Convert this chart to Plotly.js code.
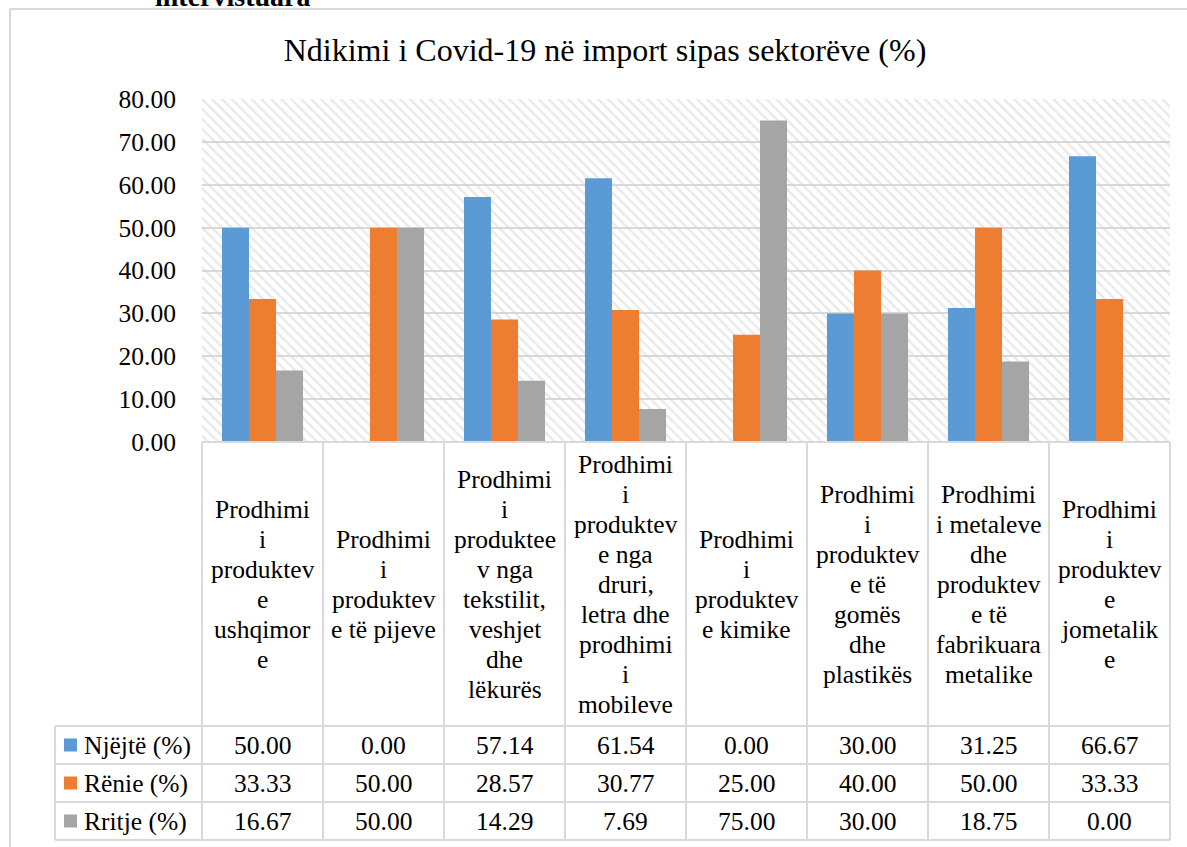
<!DOCTYPE html>
<html>
<head>
<meta charset="utf-8">
<script src="https://cdn.plot.ly/plotly-3.0.1.min.js"></script>
<style>html,body{margin:0;padding:0;background:#fff;}</style>
</head>
<body>
<div id="chart"></div>
<script>
// ---- data ----
const categories = [
  "Prodhimi<br>i<br>produktev<br>e<br>ushqimor<br>e",
  "Prodhimi<br>i<br>produktev<br>e të pijeve",
  "Prodhimi<br>i<br>produktee<br>v nga<br>tekstilit,<br>veshjet<br>dhe<br>lëkurës",
  "Prodhimi<br>i<br>produktev<br>e nga<br>druri,<br>letra dhe<br>prodhimi<br>i<br>mobileve",
  "Prodhimi<br>i<br>produktev<br>e kimike",
  "Prodhimi<br>i<br>produktev<br>e të<br>gomës<br>dhe<br>plastikës",
  "Prodhimi<br>i metaleve<br>dhe<br>produktev<br>e të<br>fabrikuara<br>metalike",
  "Prodhimi<br>i<br>produktev<br>e<br>jometalik<br>e"
];
const seriesNames = ["Njëjtë (%)", "Rënie (%)", "Rritje (%)"];
const njejte = [50.00, 0.00, 57.14, 61.54, 0.00, 30.00, 31.25, 66.67];
const renie  = [33.33, 50.00, 28.57, 30.77, 25.00, 40.00, 50.00, 33.33];
const rritje = [16.67, 50.00, 14.29, 7.69, 75.00, 30.00, 18.75, 0.00];
const seriesColors = ["#5B9BD5", "#ED7D31", "#A5A5A5"];
const yTickVals = [0, 10, 20, 30, 40, 50, 60, 70, 80];
const titleText = "Ndikimi i Covid-19 në import sipas sektorëve (%)";

// ---- layout geometry (pixels) ----
const W = 1187, H = 847;
const L = 202, R = 1170, T = 99, B = 442;
const pw = R - L, ph = B - T;
const px = p => (p - L) / pw;
const py = p => (B - p) / ph;
const FONT = "Times New Roman, Liberation Serif, serif";
const FS = 25.5;
const gridC = "#D9D9D9";
const yMax = yTickVals[yTickVals.length - 1];

const seriesVals = [njejte, renie, rritje];
const xIdx = categories.map((c, i) => i);
const n = categories.length;

// background hatch (plot-area fill, Excel "wide downward diagonal")
const traces = [{
  type: "bar", x: [0], y: [yMax], width: [1],
  xaxis: "x", yaxis: "y",
  marker: { color: "rgba(0,0,0,0)", line: { width: 0 },
    pattern: { shape: "\\", fgcolor: "#d4d4d4", size: 7, solidity: 0.35, fillmode: "overlay" } },
  hoverinfo: "skip", showlegend: false
}].concat(seriesVals.map((vals, s) => ({
  type: "bar",
  name: seriesNames[s],
  x: xIdx,
  y: vals,
  xaxis: "x2", yaxis: "y",
  marker: { color: seriesColors[s], line: { width: 0 } },
  hoverinfo: "skip"
})));

const shapes = [];
const annotations = [];
const line = (x0, y0, x1, y1) => shapes.push({
  type: "line", xref: "paper", yref: "paper",
  x0: px(x0), y0: py(y0), x1: px(x1), y1: py(y1),
  line: { color: gridC, width: 2 }
});

// outer chart border
line(10, 9, W + 20, 9);
line(10, 9, 10, H + 20);

// table rows
const rowLines = [726, 764, 802, 840];
const rowCenters = [745, 783, 821];
const legX = 55;
line(L, B, R, B);
rowLines.forEach(y => line(legX, y, R, y));
line(legX, 726, legX, 840);
for (let i = 0; i <= n; i++) {
  const xp = L + pw * i / n;
  line(xp, B, xp, 840);
}

const txtFont = () => ({ family: FONT, size: FS, color: "#000" });

// category labels (one annotation per line for Excel-like spacing)
const catCenter = (B + 726) / 2;
const lh = 30;
categories.forEach((c, i) => {
  const parts = c.split("<br>");
  parts.forEach((t, k) => {
    annotations.push({
      xref: "x2", yref: "paper", x: i,
      y: py(catCenter + (k - (parts.length - 1) / 2) * lh),
      text: t, showarrow: false, xanchor: "center", yanchor: "middle",
      font: txtFont()
    });
  });
});

// table values and legend keys
seriesVals.forEach((vals, s) => {
  const yc = rowCenters[s];
  shapes.push({
    type: "rect", xref: "paper", yref: "paper",
    x0: px(64), x1: px(77), y0: py(yc - 6.5), y1: py(yc + 6.5),
    fillcolor: seriesColors[s], line: { width: 0 }
  });
  annotations.push({
    xref: "paper", yref: "paper", x: px(82), y: py(yc),
    text: seriesNames[s], showarrow: false, xanchor: "left", yanchor: "middle",
    font: txtFont()
  });
  vals.forEach((v, i) => {
    annotations.push({
      xref: "x2", yref: "paper", x: i, y: py(yc),
      text: v.toFixed(2), showarrow: false, xanchor: "center", yanchor: "middle",
      font: txtFont()
    });
  });
});

// fragment of document text above the chart (cut off at the top, as in the source)
annotations.push({
  xref: "paper", yref: "paper", x: px(153), y: py(14),
  text: "<b>intervistuara</b>", showarrow: false, xanchor: "left", yanchor: "bottom",
  font: { family: FONT, size: 28, color: "#000" }
});

const layout = {
  width: W, height: H,
  margin: { l: L, r: W - R, t: T, b: H - B, pad: 0 },
  paper_bgcolor: "#ffffff",
  plot_bgcolor: "#ffffff",
  showlegend: false,
  barmode: "group",
  bargap: 0.33,
  bargroupgap: 0,
  title: {
    text: titleText,
    xref: "container", yref: "container",
    x: 605 / W, y: 1 - 50 / H, xanchor: "center", yanchor: "middle",
    font: { family: FONT, size: 32, color: "#000" }
  },
  xaxis: {
    type: "linear", range: [-0.5, 0.5],
    showticklabels: false, showgrid: false, zeroline: false, showline: false, ticks: ""
  },
  xaxis2: {
    type: "linear", range: [-0.5, n - 0.5], overlaying: "x", anchor: "y",
    showticklabels: false, showgrid: false, zeroline: false, showline: false, ticks: ""
  },
  yaxis: {
    range: [0, yMax], tickvals: yTickVals, tickformat: ".2f",
    showgrid: true, gridcolor: gridC, gridwidth: 1.5,
    zeroline: true, zerolinecolor: gridC, zerolinewidth: 1.5,
    showline: false, ticks: "outside", ticklen: 20, tickcolor: "rgba(0,0,0,0)",
    tickfont: { family: FONT, size: FS, color: "#000" }
  },
  shapes: shapes,
  annotations: annotations
};

Plotly.newPlot("chart", traces, layout, { displayModeBar: false });
</script>
</body>
</html>
